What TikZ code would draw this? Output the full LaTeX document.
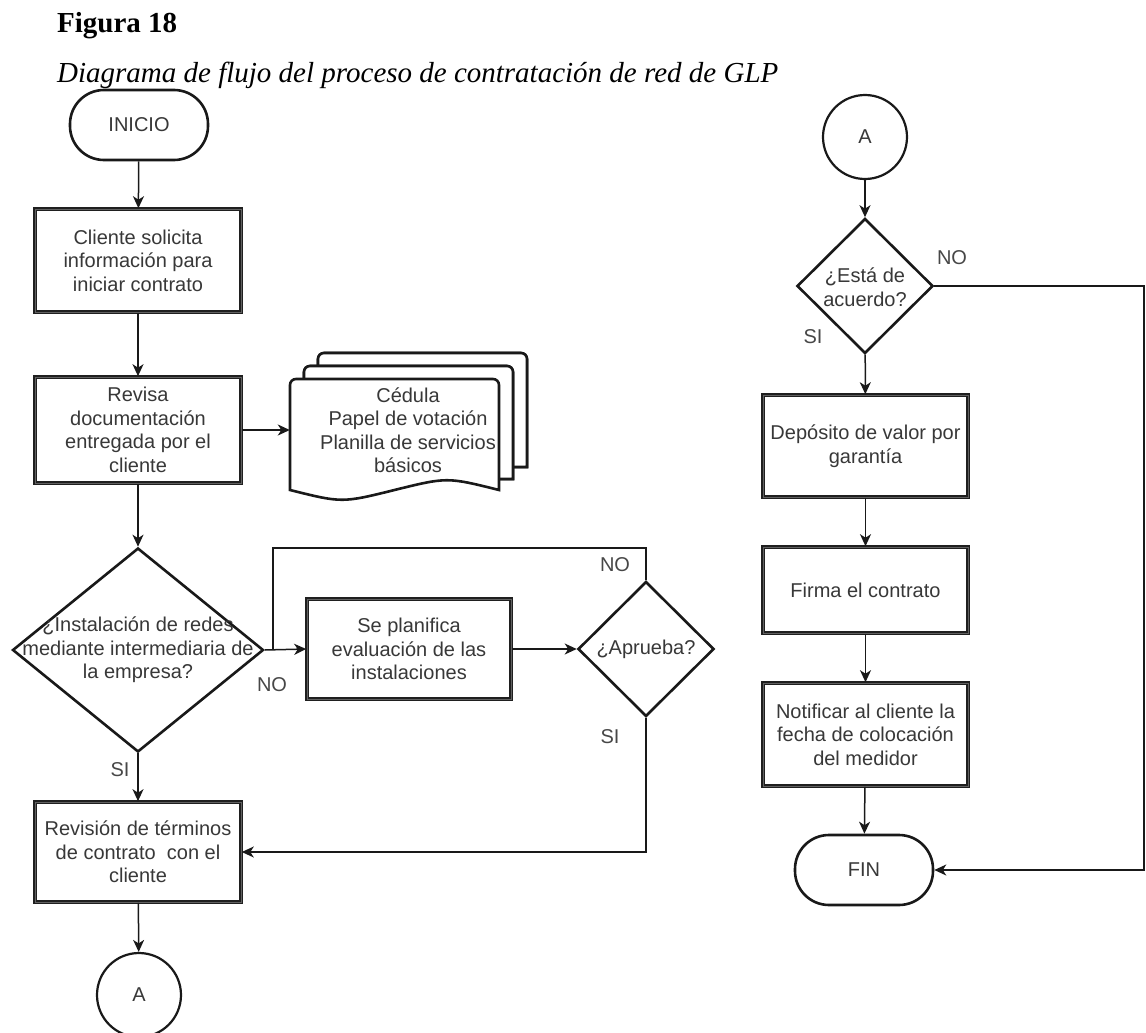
\documentclass[tikz,border=0pt]{standalone}
\usepackage{fontspec}
\setmainfont{Liberation Serif}
\newfontfamily\arial{Liberation Sans}
\usetikzlibrary{shapes.geometric,arrows.meta}

\begin{document}
\begin{tikzpicture}[x=1pt,y=-1pt,
  txt/.style={font=\arial\fontsize{20}{23.5}\selectfont, text=black!78, align=center},
  proc/.style={draw=black!88, line width=1.6pt, double=black!62, double distance=1pt,
    fill=white, minimum width=206pt, inner sep=0pt},
  term/.style={draw=black!90, line width=2.6pt, fill=white, rounded corners=34pt,
    minimum width=138pt, minimum height=70pt, inner sep=0pt},
  dec/.style={diamond, draw=black!90, line width=2.6pt, fill=white, inner sep=0pt},
  conn/.style={circle, draw=black!90, line width=2.2pt, fill=white, minimum size=84pt, inner sep=0pt},
  doc/.style={draw=black!90, line width=2.6pt, fill=white, rounded corners=6pt},
  arr/.style={draw=black!90, line width=1.5pt, -{Stealth[length=12pt,width=11pt,inset=3.5pt]}},
  ln/.style={draw=black!90, line width=1.5pt},
  lbl/.style={font=\arial\fontsize{20}{24}\selectfont, text=black!72, inner sep=0pt},
]
\clip (0,0) rectangle (1146,1033);
\useasboundingbox (0,0) rectangle (1146,1033);

% heading
\node[anchor=base west, inner sep=0pt, font=\fontsize{29}{34}\selectfont\bfseries] (tit) at (57,33) {Figura 18};
\node[anchor=base west, inner sep=0pt, font=\fontsize{29}{34}\selectfont\itshape] (sub) at (57,82)
  {Diagrama de flujo del proceso de contratación de red de GLP};

% ---------- left column ----------
\node[term, txt] (ini) at (139,125) {INICIO};
\node[proc, txt, minimum height=103pt] (b1) at (138,260.5)
  {Cliente solicita\\información para\\iniciar contrato};
\node[proc, txt, minimum height=106pt] (b2) at (138,430)
  {Revisa\\documentación\\entregada por el\\cliente};

% stacked documents (back, middle, front)
\path[doc] (318,366) -- (318,353) -- (527,353) [sharp corners] -- (527,467) -- (513,467);
\draw[doc] (318,366) -- (318,353) -- (527,353) [sharp corners] -- (527,467) -- (513,467);
\path[doc] (304,379) -- (304,366) -- (513,366) [sharp corners] -- (513,479) -- (499,479);
\draw[doc] (304,379) -- (304,366) -- (513,366) [sharp corners] -- (513,479) -- (499,479);
\draw[doc] (290,490) -- (290,379) -- (499,379) [sharp corners] -- (499,490)
  .. controls (447,477) .. (394.5,490) .. controls (342,503) .. (290,490) -- cycle;
\node[minimum width=209pt, minimum height=102pt, inner sep=0pt] (docs) at (394.5,430) {};
\node[txt] (doct) at (408,430) {Cédula\\Papel de votación\\Planilla de servicios\\básicos};

\node[dec, minimum width=251pt, minimum height=204pt] (d1) at (138,650) {};
\node[txt] (d1t) at (138,650) {¿Instalación de redes\\mediante intermediaria de\\la empresa?};

\node[proc, txt, minimum width=204pt, minimum height=100pt] (b3) at (409,649)
  {Se planifica\\evaluación de las\\instalaciones};

\node[dec, minimum width=136pt, minimum height=135pt] (d2) at (646,649) {};
\node[txt] (d2t) at (646,649) {¿Aprueba?};

\node[proc, txt, minimum height=100pt] (b4) at (138,852)
  {Revisión de términos\\de contrato\ \ con el\\cliente};
\node[conn, txt] (ca1) at (139,995) {A};

% ---------- right column ----------
\node[conn, txt] (ca2) at (865,137) {A};
\node[dec, minimum width=136pt, minimum height=135pt] (d3) at (865,286) {};
\node[txt] (d3t) at (865,287) {¿Está de\\acuerdo?};
\node[proc, txt, minimum width=205pt, minimum height=102pt] (b5) at (865.5,446)
  {Depósito de valor por\\garantía};
\node[proc, txt, minimum width=205pt, minimum height=86pt] (b6) at (865.5,590)
  {Firma el contrato};
\node[proc, txt, minimum width=205pt, minimum height=103pt] (b7) at (865.5,734.5)
  {Notificar al cliente la\\fecha de colocación\\del medidor};
\node[term, txt] (fin) at (864,870) {FIN};

% ---------- connectors ----------
\coordinate (j1) at (273,649);
\coordinate (lp) at (273,548);
\coordinate (rt) at (1144,286);

\draw[arr] (ini) -- (b1);
\draw[arr] (b1) -- (b2);
\draw[arr] (b2.east) -- (docs.west);
\draw[arr] (b2) -- (d1);
\draw[arr] (d1.south) -- (b4.north);
\draw[arr] (d1.east) -- (b3.west);
\draw[arr] (b3.east) -- (d2.west);
\draw[ln] (d2.north) |- (lp) -- (j1);
\draw[arr] (d2.south) |- (b4.east);
\draw[arr] (b4) -- (ca1);

\draw[arr] (ca2) -- (d3);
\draw[arr] (d3) -- (b5);
\draw[arr] (b5) -- (b6);
\draw[arr] (b6) -- (b7);
\draw[arr] (b7) -- (fin);
\draw[arr] (d3.east) -- (rt) |- (fin.east);

% branch labels
\node[lbl] (no1) at (272,685) {NO};
\node[lbl] (si1) at (120,770) {SI};
\node[lbl] (no2) at (615,565) {NO};
\node[lbl] (si2) at (610,737) {SI};
\node[lbl] (no3) at (952,258) {NO};
\node[lbl] (si3) at (813,337) {SI};
\end{tikzpicture}
\end{document}
